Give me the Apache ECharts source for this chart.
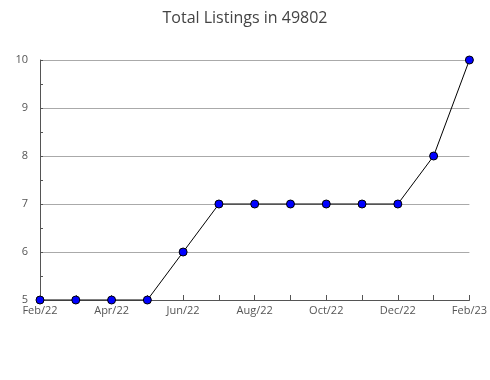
<!DOCTYPE html>
<html><head><meta charset="utf-8">
<script src="https://cdn.jsdelivr.net/npm/echarts@6/dist/echarts.min.js"></script>
<style>html,body{margin:0;padding:0;background:#fff}#c{width:490px;height:380px}</style>
</head><body><div id="c"></div>
<script>
var categories = ['Feb/22','Mar/22','Apr/22','May/22','Jun/22','Jul/22','Aug/22','Sep/22','Oct/22','Nov/22','Dec/22','Jan/23','Feb/23'];
var listings = [5,5,5,5,6,7,7,7,7,7,7,8,10];
var titleText = 'Total Listings in 49802';
var chart = echarts.init(document.getElementById('c'));
chart.setOption({
  animation:false,
  title:{text:titleText,left:'center',top:5,textStyle:{fontFamily:'Open Sans',fontSize:16,fontWeight:'normal',color:'#444'}},
  grid:{left:40,right:20,top:60,bottom:80,containLabel:false},
  xAxis:{type:'category',data:categories,boundaryGap:false,
    axisLine:{lineStyle:{color:'#555',width:1}},
    axisTick:{show:true,inside:true,length:5,interval:0,lineStyle:{color:'#555'}},
    axisLabel:{interval:1,color:'#555',fontFamily:'Open Sans',fontSize:11,margin:5},
    splitLine:{show:false}},
  yAxis:{type:'value',min:5,max:10,interval:1,
    axisLine:{show:true,lineStyle:{color:'#555',width:1}},
    axisTick:{show:true,inside:true,length:3,lineStyle:{color:'#555'}},
    minorTick:{show:true,splitNumber:2,length:3,lineStyle:{color:'#555'}},
    axisLabel:{color:'#555',fontFamily:'Open Sans',fontSize:11,margin:12},
    splitLine:{show:true,lineStyle:{color:'#aaa',width:1}}},
  series:[{type:'line',data:listings,symbol:'circle',symbolSize:8,
    lineStyle:{color:'#000',width:1},
    itemStyle:{color:'#0000ff',borderColor:'#000',borderWidth:1}}]
});
</script></body></html>
